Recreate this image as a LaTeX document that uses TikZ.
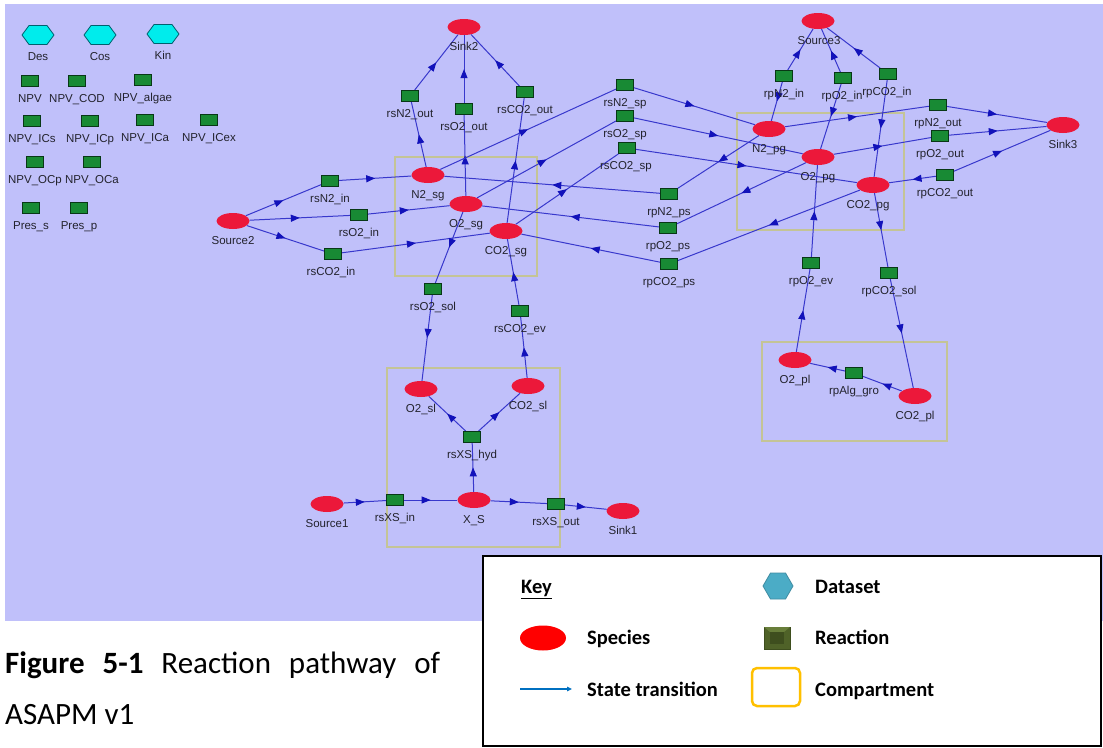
\documentclass[tikz,border=0pt]{standalone}
\usepackage{fontspec}
\setmainfont{Carlito}
\newfontfamily\lblfont{Liberation Sans}
\usetikzlibrary{shapes.geometric,shapes.symbols,arrows.meta,decorations.markings,backgrounds}
\definecolor{bgcol}{RGB}{192,192,250}
\definecolor{spcol}{RGB}{236,24,58}
\definecolor{rxcol}{RGB}{24,138,52}
\definecolor{rxdark}{RGB}{8,56,22}
\definecolor{dscol}{RGB}{0,236,236}
\definecolor{dsdark}{RGB}{0,96,110}
\definecolor{edgecol}{RGB}{56,56,204}
\definecolor{arrcol}{RGB}{18,18,186}
\definecolor{compcol}{RGB}{196,196,150}
\definecolor{lblcol}{RGB}{35,35,45}
\definecolor{keyred}{RGB}{255,0,0}
\definecolor{keyteal}{RGB}{75,172,198}
\definecolor{keytealdark}{RGB}{64,140,162}
\definecolor{keyolive}{RGB}{79,98,40}
\definecolor{keyolivelt}{RGB}{104,126,58}
\definecolor{keyolivedk}{RGB}{62,78,30}
\definecolor{keyblue}{RGB}{0,112,192}
\definecolor{keyorange}{RGB}{255,192,0}
% name, x, y, label, label x-offset
\newcommand\mkspecies[5]{\node[species] (#1) at (#2,#3) {};
  \node[lbl] (#1-l) at (#2+#5,#3+23) {#4};}
\newcommand\mkreact[5]{\node[react] (#1) at (#2,#3) {};
  \node[lbl] (#1-l) at (#2+#5,#3+21) {#4};}
\newcommand\mkdata[4]{\node[dataset] (#1) at (#2,#3) {};
  \node[lbl] (#1-l) at (#2,#3+25) {#4};}
\begin{document}
\begin{tikzpicture}[x=1pt,y=-1pt,
  species/.style={ellipse, fill=spcol, minimum width=33pt, minimum height=16pt, inner sep=0pt},
  react/.style={rectangle, fill=rxcol, draw=rxdark, line width=0.9pt, minimum width=17pt, minimum height=11pt, inner sep=0pt},
  dataset/.style={signal, signal to=east and west, signal pointer angle=107, fill=dscol, draw=dsdark, line width=0.8pt, minimum width=32pt, minimum height=19pt, inner sep=0pt},
  lbl/.style={font=\lblfont\fontsize{11.5}{13}\selectfont, text=lblcol, inner sep=0pt, anchor=base},
  flow/.style={draw=edgecol, line width=1pt, postaction={decorate}, decoration={markings, mark=at position 0.5 with {\arrow{Triangle[length=9pt,width=7pt,color=arrcol]}}}},
  comp/.style={draw=compcol, line width=2pt, inner sep=0pt},
  keytext/.style={font=\bfseries\fontsize{20.5}{24}\selectfont, inner sep=0pt, anchor=base west},
]
\useasboundingbox (0,0) rectangle (1103,747);

% ---------- palette ----------
\mkdata{Des}{38}{35}{Des}
\mkdata{Cos}{100}{35}{Cos}
\mkdata{Kin}{163}{34}{Kin}
\mkreact{NPV}{30}{81}{NPV}{0}
\mkreact{NPVCOD}{77}{81}{NPV\_COD}{0}
\mkreact{NPValgae}{143}{80}{NPV\_algae}{0}
\mkreact{NPVICs}{32}{121}{NPV\_ICs}{0}
\mkreact{NPVICp}{90}{121}{NPV\_ICp}{0}
\mkreact{NPVICa}{145}{120}{NPV\_ICa}{0}
\mkreact{NPVICex}{209}{120}{NPV\_ICex}{0}
\mkreact{NPVOCp}{35}{162}{NPV\_OCp}{0}
\mkreact{NPVOCa}{92}{162}{NPV\_OCa}{0}
\mkreact{Press}{31}{208}{Pres\_s}{0}
\mkreact{Presp}{79}{208}{Pres\_p}{0}

% ---------- species ----------
\mkspecies{Source2}{233}{221}{Source2}{0}
\mkspecies{N2sg}{428}{175}{N2\_sg}{0}
\mkspecies{O2sg}{466}{204}{O2\_sg}{0}
\mkspecies{CO2sg}{506}{231}{CO2\_sg}{0}
\mkspecies{Sink2}{464}{27}{Sink2}{0}
\mkspecies{N2pg}{769}{129}{N2\_pg}{0}
\mkspecies{O2pg}{818}{157}{O2\_pg}{0}
\mkspecies{CO2pg}{873}{185}{CO2\_pg}{-5}
\mkspecies{Sink3}{1063}{125}{Sink3}{0}
\mkspecies{Source3}{818}{21}{Source3}{1}
\mkspecies{O2sl}{421}{389}{O2\_sl}{0}
\mkspecies{CO2sl}{528}{386}{CO2\_sl}{0}
\mkspecies{XS}{474}{500}{X\_S}{0}
\mkspecies{Source1}{327}{504}{Source1}{0}
\mkspecies{Sink1}{623}{511}{Sink1}{0}
\mkspecies{O2pl}{795}{360}{O2\_pl}{0}
\mkspecies{CO2pl}{915}{396}{CO2\_pl}{0}

% ---------- reactions ----------
\mkreact{rsN2in}{330}{181}{rsN2\_in}{0}
\mkreact{rsO2in}{359}{215}{rsO2\_in}{0}
\mkreact{rsCO2in}{333}{254}{rsCO2\_in}{-2}
\mkreact{rsN2out}{410}{96}{rsN2\_out}{0}
\mkreact{rsO2out}{464}{109}{rsO2\_out}{0}
\mkreact{rsCO2out}{525}{92}{rsCO2\_out}{0}
\mkreact{rsN2sp}{625}{85}{rsN2\_sp}{0}
\mkreact{rsO2sp}{625}{116}{rsO2\_sp}{0}
\mkreact{rsCO2sp}{627}{148}{rsCO2\_sp}{-1}
\mkreact{rpN2ps}{669}{194}{rpN2\_ps}{0}
\mkreact{rpO2ps}{668}{228}{rpO2\_ps}{0}
\mkreact{rpCO2ps}{669}{264}{rpCO2\_ps}{0}
\mkreact{rpN2in}{784}{76}{rpN2\_in}{0}
\mkreact{rpO2in}{843}{78}{rpO2\_in}{-1}
\mkreact{rpCO2in}{888}{74}{rpCO2\_in}{-1}
\mkreact{rpN2out}{938}{105}{rpN2\_out}{0}
\mkreact{rpO2out}{940}{136}{rpO2\_out}{0}
\mkreact{rpCO2out}{945}{175}{rpCO2\_out}{0}
\mkreact{rsO2sol}{433}{289}{rsO2\_sol}{0}
\mkreact{rsCO2ev}{520}{311}{rsCO2\_ev}{0}
\mkreact{rsXShyd}{472}{437}{rsXS\_hyd}{0}
\mkreact{rsXSin}{395}{500}{rsXS\_in}{0}
\mkreact{rsXSout}{556}{504}{rsXS\_out}{0}
\mkreact{rpO2ev}{811}{263}{rpO2\_ev}{0}
\mkreact{rpCO2sol}{889}{273}{rpCO2\_sol}{0}
\mkreact{rpAlggro}{854}{373}{rpAlg\_gro}{0}

% ---------- background, compartments, connectors ----------
\begin{scope}[on background layer]
\fill[bgcol] (5,4) rectangle (1103,621);
\node[comp, minimum width=142pt, minimum height=119pt] (csg) at (466,216.5) {};
\node[comp, minimum width=167pt, minimum height=117pt] (cpg) at (820.5,171.5) {};
\node[comp, minimum width=173pt, minimum height=179pt] (csl) at (473.5,457.5) {};
\node[comp, minimum width=185pt, minimum height=99pt] (cpl) at (854.5,391.5) {};

\draw[flow] (Source2) -- (rsN2in);
\draw[flow] (rsN2in) -- (N2sg);
\draw[flow] (Source2) -- (rsO2in);
\draw[flow] (rsO2in) -- (O2sg);
\draw[flow] (Source2) -- (rsCO2in);
\draw[flow] (rsCO2in) -- (CO2sg);
\draw[flow] (N2sg) -- (rsN2out);
\draw[flow] (rsN2out) -- (Sink2);
\draw[flow] (O2sg) -- (rsO2out);
\draw[flow] (rsO2out) -- (Sink2);
\draw[flow] (CO2sg) -- (rsCO2out);
\draw[flow] (rsCO2out) -- (Sink2);
\draw[flow] (N2sg) -- (rsN2sp);
\draw[flow] (rsN2sp) -- (N2pg);
\draw[flow] (O2sg) -- (rsO2sp);
\draw[flow] (rsO2sp) -- (O2pg);
\draw[flow] (CO2sg) -- (rsCO2sp);
\draw[flow] (rsCO2sp) -- (CO2pg);
\draw[flow] (N2pg) -- (rpN2ps);
\draw[flow] (rpN2ps) -- (N2sg);
\draw[flow] (O2pg) -- (rpO2ps);
\draw[flow] (rpO2ps) -- (O2sg);
\draw[flow] (CO2pg) -- (rpCO2ps);
\draw[flow] (rpCO2ps) -- (CO2sg);
\draw[flow] (rpN2in) -- (Source3);
\draw[flow] (rpO2in) -- (Source3);
\draw[flow] (rpCO2in) -- (Source3);
\draw[flow] (rpN2in) -- (N2pg);
\draw[flow] (rpO2in) -- (O2pg);
\draw[flow] (rpCO2in) -- (CO2pg);
\draw[flow] (N2pg) -- (rpN2out);
\draw[flow] (rpN2out) -- (Sink3);
\draw[flow] (O2pg) -- (rpO2out);
\draw[flow] (rpO2out) -- (Sink3);
\draw[flow] (rpCO2out) -- (CO2pg);
\draw[flow] (rpCO2out) -- (Sink3);
\draw[flow] (O2sg) -- (rsO2sol);
\draw[flow] (rsO2sol) -- (O2sl);
\draw[flow] (CO2sl) -- (rsCO2ev);
\draw[flow] (rsCO2ev) -- (CO2sg);
\draw[flow] (XS) -- (rsXShyd);
\draw[flow] (rsXShyd) -- (O2sl);
\draw[flow] (rsXShyd) -- (CO2sl);
\draw[flow] (Source1) -- (rsXSin);
\draw[flow] (rsXSin) -- (XS);
\draw[flow] (XS) -- (rsXSout);
\draw[flow] (rsXSout) -- (Sink1);
\draw[flow] (O2pl) -- (rpO2ev);
\draw[flow] (rpO2ev) -- (O2pg);
\draw[flow] (CO2pg) -- (rpCO2sol);
\draw[flow] (rpCO2sol) -- (CO2pl);
\draw[flow] (CO2pl) -- (rpAlggro);
\draw[flow] (rpAlggro) -- (O2pl);
\end{scope}

% ---------- key ----------
\node[draw=black, fill=white, line width=1.5pt, minimum width=618pt, minimum height=190pt, inner sep=0pt] (keybox) at (792,651) {};
\node[keytext] (kkey) at (521,593.6) {\underline{Key}};
\node[signal, signal to=east and west, signal pointer angle=120, fill=keyteal, draw=keytealdark, line width=0.8pt, minimum width=30pt, minimum height=26pt, inner sep=0pt] (kds) at (778,586) {};
\node[keytext] (kdst) at (815,593.6) {Dataset};
\node[ellipse, fill=keyred, minimum width=46pt, minimum height=25pt, inner sep=0pt] (ksp) at (543,638) {};
\node[keytext] (kspt) at (587,644.6) {Species};
\node[fill=keyolive, draw=keyolivedk, line width=0.8pt, minimum width=26pt, minimum height=22pt, inner sep=0pt] (krx) at (777,638) {};
\fill[keyolivelt] (764,627) -- (790,627) -- (784,632) -- (770,632) -- cycle;
\fill[keyolivedk] (770,632) rectangle (784,644);
\node[keytext] (krxt) at (815,644.6) {Reaction};
\coordinate (ka1) at (520,689);
\coordinate (ka2) at (572,689);
\draw[keyblue, line width=1.3pt, -{Triangle[length=5pt,width=4.5pt]}] (ka1) -- (ka2);
\node[keytext] (kst) at (587,696) {State transition};
\node[draw=keyorange, line width=2.5pt, rounded corners=5pt, minimum width=48pt, minimum height=38pt, inner sep=0pt] (kcomp) at (776,687) {};
\node[keytext] (kcompt) at (815,696) {Compartment};

% ---------- caption ----------
\node[inner sep=0pt, anchor=base west, font=\fontsize{31}{36}\selectfont] (cap1) at (5,673) {\makebox[435pt][s]{\textbf{Figure 5-1} Reaction pathway of}};
\node[inner sep=0pt, anchor=base west, font=\fontsize{31}{36}\selectfont] (cap2) at (5,724) {ASAPM v1};
\end{tikzpicture}
\end{document}
